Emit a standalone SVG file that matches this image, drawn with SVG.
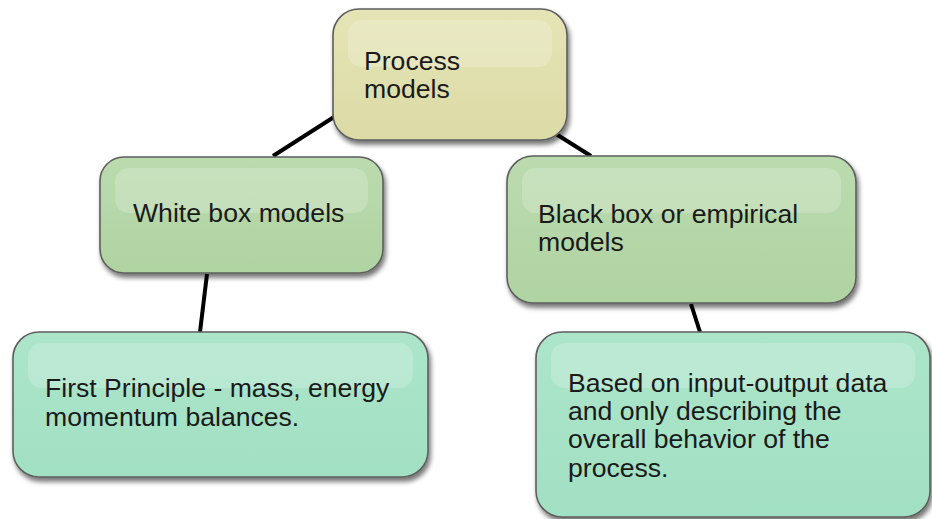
<svg xmlns="http://www.w3.org/2000/svg" width="932" height="519" viewBox="0 0 932 519">
  <defs>
    <linearGradient id="gYellow" x1="0" y1="0" x2="0" y2="1">
      <stop offset="0" stop-color="#e4e4b6"/>
      <stop offset="1" stop-color="#dcdba6"/>
    </linearGradient>
    <linearGradient id="gGreen" x1="0" y1="0" x2="0" y2="1">
      <stop offset="0" stop-color="#bbdbaf"/>
      <stop offset="1" stop-color="#b0d3a2"/>
    </linearGradient>
    <linearGradient id="gMint" x1="0" y1="0" x2="0" y2="1">
      <stop offset="0" stop-color="#ace5ca"/>
      <stop offset="1" stop-color="#a2e0c3"/>
    </linearGradient>
    <filter id="shadow" x="-10%" y="-10%" width="125%" height="130%">
      <feGaussianBlur in="SourceAlpha" stdDeviation="2.5"/>
      <feOffset dx="2" dy="4" result="b"/>
      <feComponentTransfer><feFuncA type="linear" slope="0.55"/></feComponentTransfer>
      <feMerge><feMergeNode/><feMergeNode in="SourceGraphic"/></feMerge>
    </filter>
  </defs>
  <style>
    .box { stroke: #5e5e5e; stroke-width: 1.6; filter: url(#shadow); }
    .gloss { fill: #ffffff; fill-opacity: 0.2; }
    .lbl { font-family: "Liberation Sans", Arial, sans-serif; font-size: 26.6px; fill: #1a1a1a; }
    .link { stroke: #000000; stroke-width: 4; stroke-linecap: butt; fill: none; }
  </style>

  <rect width="932" height="519" fill="#ffffff"/>

  <!-- tree connectors -->
  <g id="connectors">
    <line class="link" x1="273" y1="156" x2="334" y2="117"/>
    <line class="link" x1="556" y1="134" x2="591" y2="156"/>
    <line class="link" x1="207" y1="274" x2="200" y2="332"/>
    <line class="link" x1="691" y1="304" x2="700" y2="332"/>
  </g>

  <g id="process-models">
    <rect class="box" x="333" y="9" width="234" height="131" rx="26" fill="url(#gYellow)"/>
    <rect class="gloss" x="348" y="20" width="204" height="47" rx="14"/>
    <text class="lbl" x="364" y="70">Process</text>
    <text class="lbl" x="364" y="98">models</text>
  </g>

  <g id="white-box">
    <rect class="box" x="100" y="157" width="283" height="116" rx="24" fill="url(#gGreen)"/>
    <rect class="gloss" x="115" y="168" width="253" height="45" rx="14"/>
    <text class="lbl" x="133" y="222">White box models</text>
  </g>

  <g id="black-box">
    <rect class="box" x="507" y="156" width="349" height="147" rx="26" fill="url(#gGreen)"/>
    <rect class="gloss" x="522" y="168" width="319" height="45" rx="14"/>
    <text class="lbl" x="538" y="223">Black box or empirical</text>
    <text class="lbl" x="538" y="251">models</text>
  </g>

  <g id="first-principle">
    <rect class="box" x="13" y="332" width="415" height="145" rx="26" fill="url(#gMint)"/>
    <rect class="gloss" x="28" y="343" width="385" height="45" rx="14"/>
    <text class="lbl" x="45" y="397">First Principle - mass, energy</text>
    <text class="lbl" x="45" y="426">momentum balances.</text>
  </g>

  <g id="input-output">
    <rect class="box" x="536" y="332" width="394" height="185" rx="26" fill="url(#gMint)"/>
    <rect class="gloss" x="551" y="343" width="364" height="45" rx="14"/>
    <text class="lbl" x="568" y="392">Based on input-output data</text>
    <text class="lbl" x="568" y="420">and only describing the</text>
    <text class="lbl" x="568" y="448">overall behavior of the</text>
    <text class="lbl" x="568" y="477">process.</text>
  </g>
</svg>
